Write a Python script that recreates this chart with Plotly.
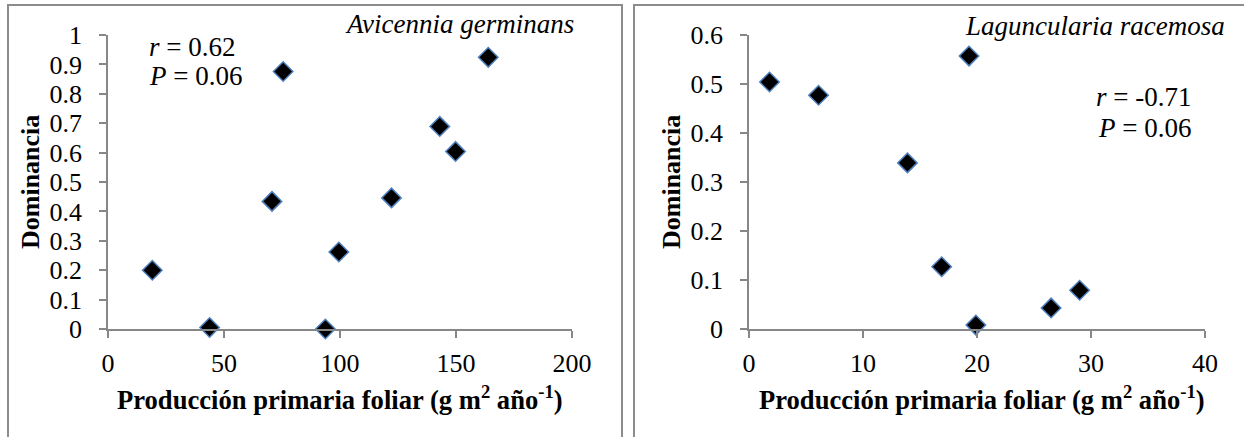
import plotly.graph_objects as go

# Avicennia germinans
avi_x = [19.1, 43.8, 70.7, 75.5, 93.7, 99.5, 122.2, 143.0, 149.8, 163.9]
avi_y = [0.200, 0.005, 0.434, 0.876, 0.0, 0.262, 0.446, 0.689, 0.604, 0.924]

# Laguncularia racemosa
lag_x = [1.8, 6.1, 13.9, 19.3, 16.9, 19.9, 26.5, 29.0]
lag_y = [0.504, 0.477, 0.339, 0.557, 0.127, 0.008, 0.043, 0.079]

avi_xticks = [0, 50, 100, 150, 200]
avi_yticks = [0, 0.1, 0.2, 0.3, 0.4, 0.5, 0.6, 0.7, 0.8, 0.9, 1]
lag_xticks = [0, 10, 20, 30, 40]
lag_yticks = [0, 0.1, 0.2, 0.3, 0.4, 0.5, 0.6]

x_title = "Producción primaria foliar (g m<sup>2</sup> año<sup>-1</sup>)"
y_title = "Dominancia"

W, H = 1244, 437
FONT = "Liberation Serif, Times New Roman, serif"
AX = "#878787"

def px(x):
    return x / W

def py(y):
    return 1 - y / H

marker = dict(symbol="diamond", size=15, color="black",
              line=dict(color="#4f81bd", width=1.5))

fig = go.Figure()
fig.add_trace(go.Scatter(x=avi_x, y=avi_y, mode="markers", marker=marker,
                         cliponaxis=False, xaxis="x", yaxis="y", showlegend=False))
fig.add_trace(go.Scatter(x=lag_x, y=lag_y, mode="markers", marker=marker,
                         cliponaxis=False, xaxis="x2", yaxis="y2", showlegend=False))

axis_common = dict(showgrid=False, zeroline=False, showline=True, linecolor=AX,
                   linewidth=1.5, ticks="outside", ticklen=7, tickwidth=1.5,
                   tickcolor=AX, tickfont=dict(family=FONT, size=26, color="black"),
                   automargin=False, fixedrange=True)

ydom = [py(329), py(35)]
fig.update_layout(
    template="none",
    width=W, height=H,
    margin=dict(l=0, r=0, t=0, b=0, pad=0),
    font=dict(family=FONT, color="black"),
    paper_bgcolor="white", plot_bgcolor="white",
    xaxis=dict(domain=[px(108), px(572)], range=[0, 200], tickvals=avi_xticks,
               anchor="y", ticklabelstandoff=3, **axis_common),
    yaxis=dict(domain=ydom, range=[0, 1], tickvals=avi_yticks, anchor="x",
               ticklabelstandoff=12, **axis_common),
    xaxis2=dict(domain=[px(749), px(1205)], range=[0, 40], tickvals=lag_xticks,
                anchor="y2", ticklabelstandoff=3, **axis_common),
    yaxis2=dict(domain=ydom, range=[0, 0.6], tickvals=lag_yticks, anchor="x2",
                ticklabelstandoff=12, **axis_common),
)

frame = dict(color="#8c8c8c", width=2)
fig.add_shape(type="rect", xref="paper", yref="paper",
              x0=px(8), x1=px(622), y0=-0.05, y1=py(5), line=frame, layer="below")
fig.add_shape(type="rect", xref="paper", yref="paper",
              x0=px(634), x1=1.05, y0=-0.05, y1=py(5), line=frame, layer="below")

def ann(text, x, y, xanchor="center", size=26, bold=False, italic=False, angle=0):
    t = text
    if bold:
        t = "<b>" + t + "</b>"
    if italic:
        t = "<i>" + t + "</i>"
    fig.add_annotation(text=t, x=px(x), y=py(y), xref="paper", yref="paper",
                       xanchor=xanchor, yanchor="middle", showarrow=False,
                       textangle=angle,
                       font=dict(family=FONT, size=size, color="black"))

ann(x_title, 340, 398, bold=True, size=26.6)
ann(x_title, 982, 398, bold=True, size=26.6)
ann(y_title, 30, 182, bold=True, angle=-90)
ann(y_title, 671, 182, bold=True, angle=-90)
ann("Avicennia germinans", 576, 24, xanchor="right", italic=True, size=27)
ann("Laguncularia racemosa", 1227, 26, xanchor="right", italic=True, size=27)
ann("<i>r</i> = 0.62", 147, 47, xanchor="left", size=27)
ann("<i>P</i> = 0.06", 147, 76, xanchor="left", size=27)
ann("<i>r</i> = -0.71", 1193, 97, xanchor="right", size=27)
ann("<i>P</i> = 0.06", 1193, 128, xanchor="right", size=27)

fig.write_html("out.html",
               config={"displayModeBar": False},
               post_script="document.body.style.margin='0px';"
                           "document.body.style.overflow='hidden';")
